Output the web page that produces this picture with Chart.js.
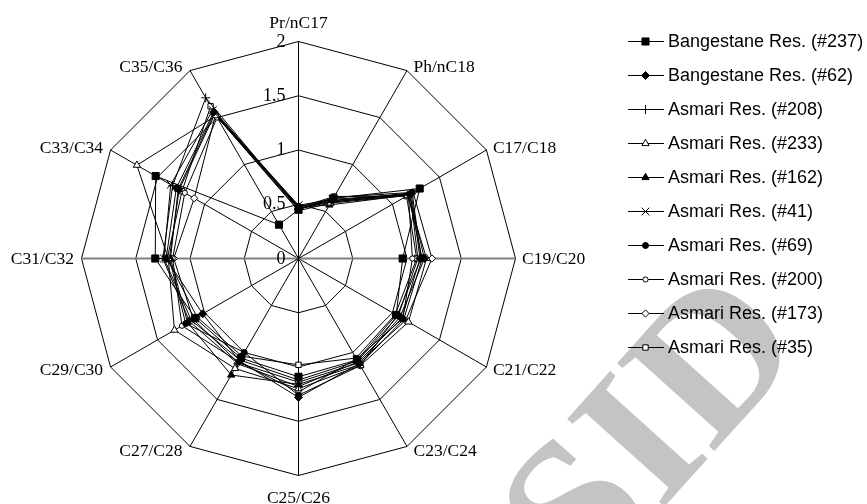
<!DOCTYPE html>
<html>
<head>
<meta charset="utf-8">
<script src="https://cdn.jsdelivr.net/npm/chart.js@4/dist/chart.umd.min.js"></script>
<style>
  html, body { margin: 0; padding: 0; background: #ffffff; }
  #wrap { width: 867px; height: 504px; position: relative; }
</style>
</head>
<body>
<div id="wrap"><canvas id="radar" width="867" height="504"></canvas></div>
<script>
// Biomarker / n-alkane ratios around the radar
const categories = ['Pr/nC17', 'Ph/nC18', 'C17/C18', 'C19/C20', 'C21/C22', 'C23/C24',
                    'C25/C26', 'C27/C28', 'C29/C30', 'C31/C32', 'C33/C34', 'C35/C36'];

// Radial axis ticks and their printed labels
const radialTicks = [0, 0.5, 1, 1.5, 2];
const tickLabels = ['0', '0.5', '1', '1.5', '2'];

// Oil samples
const seriesNames = ['Bangestane Res. (#237)', 'Bangestane Res. (#62)', 'Asmari Res. (#208)',
                     'Asmari Res. (#233)', 'Asmari Res. (#162)', 'Asmari Res. (#41)',
                     'Asmari Res. (#69)', 'Asmari Res. (#200)', 'Asmari Res. (#173)', 'Asmari Res. (#35)'];

const bangestane237 = [0.45, 0.64, 1.29, 0.96, 1.04, 1.08, 1.09, 1.06, 1.10, 1.32, 1.52, 0.36];
const bangestane62  = [0.48, 0.62, 1.18, 1.16, 1.08, 1.12, 1.28, 1.09, 1.02, 1.22, 1.30, 1.56];
const asmari208     = [0.46, 0.60, 1.20, 1.12, 1.10, 1.10, 1.18, 1.12, 1.16, 1.25, 1.34, 1.71];
const asmari233     = [0.44, 0.59, 1.16, 1.18, 1.17, 1.14, 1.20, 1.17, 1.32, 1.20, 1.72, 1.52];
const asmari162     = [0.47, 0.57, 1.17, 1.14, 1.12, 1.13, 1.16, 1.24, 1.18, 1.18, 1.28, 1.55];
const asmari41      = [0.49, 0.63, 1.19, 1.10, 1.06, 1.09, 1.12, 1.08, 1.14, 1.24, 1.36, 1.58];
const asmari69      = [0.46, 0.61, 1.21, 1.13, 1.05, 1.14, 1.26, 1.00, 1.20, 1.19, 1.27, 1.54];
const asmari200     = [0.48, 0.60, 1.17, 1.05, 1.11, 1.07, 1.23, 1.10, 1.24, 1.16, 1.21, 1.50];
const asmari173     = [0.45, 0.65, 1.22, 1.23, 1.14, 1.11, 1.14, 1.11, 1.12, 1.15, 1.11, 1.53];
const asmari35      = [0.47, 0.66, 1.15, 1.09, 1.03, 1.06, 0.98, 1.04, 1.08, 1.21, 1.24, 1.62];

const seriesValues = [bangestane237, bangestane62, asmari208, asmari233, asmari162,
                      asmari41, asmari69, asmari200, asmari173, asmari35];

// Marker look for each sample (style, radius, filled)
const markerLook = [
  { style: 'rect',      radius: 5,   filled: true  },
  { style: 'rectRot',   radius: 4,   filled: true  },
  { style: 'cross',     radius: 4.5, filled: false },
  { style: 'triangle',  radius: 4.2, filled: false },
  { style: 'triangle',  radius: 4.2, filled: true  },
  { style: 'crossRot',  radius: 5.5, filled: false },
  { style: 'circle',    radius: 3,   filled: true  },
  { style: 'circle',    radius: 2.6, filled: false },
  { style: 'rectRot',   radius: 3.6, filled: false },
  { style: 'rect',      radius: 3.8, filled: false }
];

const SERIF = '"Liberation Serif", "Times New Roman", serif';
const SANS = '"Liberation Sans", Arial, sans-serif';

const datasets = seriesNames.map((name, i) => ({
  label: name,
  data: seriesValues[i],
  borderColor: '#000000',
  borderWidth: 1,
  fill: false,
  tension: 0,
  pointStyle: markerLook[i].style,
  pointRadius: markerLook[i].radius,
  pointHoverRadius: markerLook[i].radius,
  pointBorderWidth: 1,
  pointBorderColor: '#000000',
  pointBackgroundColor: markerLook[i].filled ? '#000000' : '#ffffff'
}));

// Extra drawing: faint stamp, axis captions, tick numbers and the legend
const decorations = {
  id: 'decorations',
  beforeDraw(chart) {
    const ctx = chart.ctx;
    ctx.save();
    ctx.translate(648, 426);
    ctx.rotate(-48 * Math.PI / 180);
    ctx.font = 'bold 200px ' + SERIF;
    ctx.fillStyle = '#c4c4c4';
    ctx.textAlign = 'center';
    ctx.textBaseline = 'alphabetic';
    ctx.fillText('SID', 0, 0.33 * 200);
    ctx.restore();
    // half-pixel shift so 1px grid and series lines land on whole pixels
    ctx.translate(0.5, 0.5);
  },
  afterDraw(chart) {
    const ctx = chart.ctx;
    ctx.setTransform(1, 0, 0, 1, 0, 0);
    const r = chart.scales.r;
    const R = r.drawingArea;
    ctx.save();
    ctx.fillStyle = '#000000';

    // category captions around the outer ring
    ctx.font = '17.5px ' + SERIF;
    ctx.textBaseline = 'alphabetic';
    chart.data.labels.forEach((lab, i) => {
      const v = r.getPointPosition(i, R);
      const off = r.getPointPosition(i, R + 5);
      if (Math.abs(v.x - r.xCenter) < 2) {
        ctx.textAlign = 'center';
        const y = v.y < r.yCenter ? v.y - 13.5 : v.y + 28;
        ctx.fillText(lab, v.x + 0.5, y);
      } else if (v.x > r.xCenter) {
        ctx.textAlign = 'left';
        ctx.fillText(lab, v.x + 7, off.y + 5.8);
      } else {
        ctx.textAlign = 'right';
        ctx.fillText(lab, v.x - 7, off.y + 5.8);
      }
    });

    // radial tick numbers, left of the vertical axis
    ctx.font = '18px ' + SERIF;
    ctx.textAlign = 'right';
    ctx.textBaseline = 'middle';
    radialTicks.forEach((t, i) => {
      const d = r.getDistanceFromCenterForValue(t);
      ctx.fillText(tickLabels[i], r.xCenter - 12.5, r.yCenter - d + 1);
    });

    // legend: line with marker, then the sample name
    ctx.font = '18px ' + SANS;
    ctx.textAlign = 'left';
    ctx.textBaseline = 'alphabetic';
    chart.data.datasets.forEach((ds, i) => {
      const y = 41.5 + 34 * i;
      ctx.strokeStyle = '#000000';
      ctx.lineWidth = 1;
      ctx.beginPath();
      ctx.moveTo(628, y);
      ctx.lineTo(664, y);
      ctx.stroke();
      ctx.fillStyle = ds.pointBackgroundColor;
      ctx.strokeStyle = '#000000';
      Chart.helpers.drawPoint(ctx, {
        pointStyle: ds.pointStyle,
        radius: ds.pointRadius,
        rotation: 0,
        borderWidth: 1
      }, 645.5, y);
      ctx.fillStyle = '#000000';
      ctx.fillText(ds.label, 668, y + 5.3);
    });
    ctx.restore();
  }
};

new Chart(document.getElementById('radar'), {
  type: 'radar',
  data: { labels: categories, datasets: datasets },
  options: {
    responsive: false,
    animation: false,
    devicePixelRatio: 1,
    events: [],
    layout: { padding: { left: 81, top: 41, right: 352, bottom: 29 } },
    plugins: { legend: { display: false }, tooltip: { enabled: false }, title: { display: false } },
    scales: {
      r: {
        min: 0,
        max: 2,
        beginAtZero: true,
        ticks: { stepSize: 0.5, display: false },
        pointLabels: { display: false },
        grid: { circular: false, color: '#000000', lineWidth: 1 },
        angleLines: {
          display: true,
          color: (c) => (c.index === 3 || c.index === 9) ? '#808080' : '#000000',
          lineWidth: (c) => (c.index === 3 || c.index === 9) ? 2 : 1
        }
      }
    }
  },
  plugins: [decorations]
});
</script>
</body>
</html>
